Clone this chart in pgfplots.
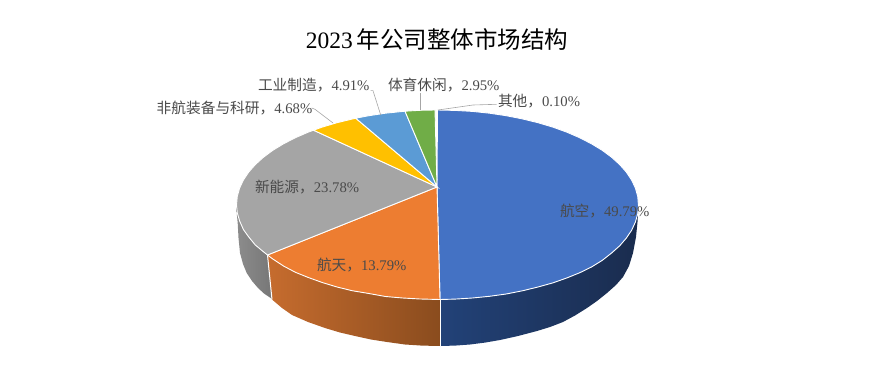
\documentclass[border=0pt]{standalone}
\usepackage{pgfplots}
\pgfplotsset{compat=1.18}
\usepackage{fontspec}
\setmainfont{Liberation Serif}
\newfontfamily\cjk{Noto Sans CJK SC}
\definecolor{cblue}{HTML}{4472C4}
\definecolor{corange}{HTML}{ED7D31}
\definecolor{cgray}{HTML}{A5A5A5}
\definecolor{cyellow}{HTML}{FFC000}
\definecolor{clblue}{HTML}{5B9BD5}
\definecolor{cgreen}{HTML}{70AD47}
\definecolor{ctxt}{HTML}{4A4A4A}
\definecolor{clead}{HTML}{A6A6A6}
\newcommand{\lbl}[2]{{\fontsize{14.7pt}{15pt}\selectfont\cjk #1，\fontspec{Liberation Serif}#2}}
\begin{document}
\begin{tikzpicture}
\useasboundingbox (0,0) rectangle (878pt,377pt);
\begin{axis}[
  at={(0,0)}, anchor=south west,
  width=878pt, height=377pt, scale only axis,
  xmin=0, xmax=878, ymin=0, ymax=377, y dir=reverse,
  axis lines=none, clip=false, no markers
]
% ---- sides
\addplot[draw=none, left color=cgray!85!black, right color=cgray!72!black] coordinates {
 (267.5,255)(263.4,251.75)(255.3,245)(248.6,236.8)(243.4,229.5)(239.6,220.9)(237.3,213)(236.5,205)
 (236.8,214)(237.7,223)(238.5,238)(240,253)(243,264)(246.7,273)(252,281)(258,288)(264,293.5)(270.7,298)(272,299.5)} -- cycle;
\addplot[draw=none, left color={rgb,255:red,198;green,108;blue,46}, right color={rgb,255:red,138;green,76;blue,30}] coordinates {
 (267.5,255)(272.8,259)(283.5,266)(295.4,272.3)(308.3,277.5)(322.2,282.5)(337,287)(352.6,290.8)(368.8,293.5)(385.5,296.5)(402.6,298)(420,299)(440,299.5)
 (440,346)(422,345.6)(405,344.5)(387,342)(371,339.5)(355,336)(340,332.5)(325,328)(308,322)(292,315)(282,308)(272,299.5)} -- cycle;
\addplot[draw=none, left color={rgb,255:red,34;green,66;blue,120}, middle color={rgb,255:red,28;green,47;blue,84}, right color={rgb,255:red,26;green,44;blue,78}] coordinates {
 (440,299.5)(455,299.1)(472.4,298)(489.5,296.3)(506.2,294)(522.4,290.8)(538,287)(552.8,282.9)(566.7,278)(579.6,272.8)(591.5,267)(602.2,260.4)(611.6,253)(619.7,245.8)(626.4,238)(631.6,230.3)(635.4,222)(637.7,214)(638.5,206)
 (637.5,222)(636,237)(633,253)(629,266)(623,277)(616,285)(607,293)(597,301)(587,308)(575,315.5)(563,322)(550,327)(537,331)(518,336)(500,340)(485,342.6)(470,344.5)(455,345.6)(440,346)} -- cycle;
% ---- top face
\addplot[fill=cblue, draw=white, line width=0.9pt] coordinates {
 (437,187)(437.5,110)(455,110.4)(472.4,111.4)(489.5,113.2)(506.2,115.7)(522.4,118.9)(538,122.7)(552.8,127.1)(566.7,132.1)(579.6,137.7)(591.5,143.8)(602.2,150.3)(611.6,157.25)(619.7,164.6)(626.4,172.2)(631.6,180)(635.4,188.1)(637.7,196.3)(638.5,206)
 (637.7,214)(635.4,222)(631.6,230.3)(626.4,238)(619.7,245.8)(611.6,253)(602.2,260.4)(591.5,267)(579.6,272.8)(566.7,278)(552.8,282.9)(538,287)(522.4,290.8)(506.2,294)(489.5,296.3)(472.4,298)(455,299.1)(440,299.5)} -- cycle;
\addplot[fill=corange, draw=white, line width=0.9pt] coordinates {
 (437,187)(440,299.5)(420,299)(402.6,298)(385.5,296.5)(368.8,293.5)(352.6,290.8)(337,287)(322.2,282.5)(308.3,277.5)(295.4,272.3)(283.5,266)(272.8,259)(267.5,255)} -- cycle;
\addplot[fill=cgray, draw=white, line width=0.9pt] coordinates {
 (437,187)(267.5,255)(263.4,251.75)(255.3,245)(248.6,236.8)(243.4,229.5)(239.6,220.9)(237.3,213)(236.5,205)(237.3,196.3)(239.6,188.1)(243.4,180)(248.6,172.2)(255.3,164.6)(263.4,157.25)(272.8,150.3)(283.5,143.8)(295.4,137.7)(308.3,132.1)(313.5,130.2)} -- cycle;
\addplot[fill=cyellow, draw=white, line width=0.9pt] coordinates {
 (437,187)(313.5,130.2)(322.2,127.1)(337,122.7)(355.7,118.2)} -- cycle;
\addplot[fill=clblue, draw=white, line width=0.9pt] coordinates {
 (437,187)(355.7,118.2)(368.8,115.7)(385.5,113.2)(405,111.2)} -- cycle;
\addplot[fill=cgreen, draw=white, line width=0.9pt] coordinates {
 (437,187)(405,111.2)(420,110.3)(435,110)} -- cycle;
\addplot[draw=white, line width=1pt] coordinates {(267.5,255)(272,299.5)};
\addplot[draw=white, line width=1pt] coordinates {(440,299.5)(440,346)};
% ---- leader lines
\addplot[draw=clead, line width=0.6pt] coordinates {(311.7,108)(315,109.3)(333,123)};
\addplot[draw=clead, line width=0.6pt] coordinates {(370.7,90.7)(373,90.7)(380.7,115)};
\addplot[draw=clead, line width=0.6pt] coordinates {(420.7,93)(420.7,110)};
\addplot[draw=clead, line width=0.6pt] coordinates {(496.7,104.3)(473,105)(438,110)};
% ---- labels
\tikzset{lab/.style={text=ctxt, anchor=west, inner sep=0pt, outer sep=0pt}}
\node[lab] at (axis cs:560,210.7) {\lbl{航空}{49.79\%}};
\node[lab] at (axis cs:317,265) {\lbl{航天}{13.79\%}};
\node[lab] at (axis cs:255,186.7) {\lbl{新能源}{23.78\%}};
\node[lab] at (axis cs:156.7,107.7) {\lbl{非航装备与科研}{4.68\%}};
\node[lab] at (axis cs:258,85) {\lbl{工业制造}{4.91\%}};
\node[lab] at (axis cs:388,85) {\lbl{体育休闲}{2.95\%}};
\node[lab] at (axis cs:498,100.7) {\lbl{其他}{0.10\%}};
\node[text=black, anchor=center, inner sep=0pt] at (axis cs:437,39) {\fontsize{23.5pt}{24pt}\selectfont 2023\,{\cjk 年公司整体市场结构}};
\end{axis}
\end{tikzpicture}
\end{document}
